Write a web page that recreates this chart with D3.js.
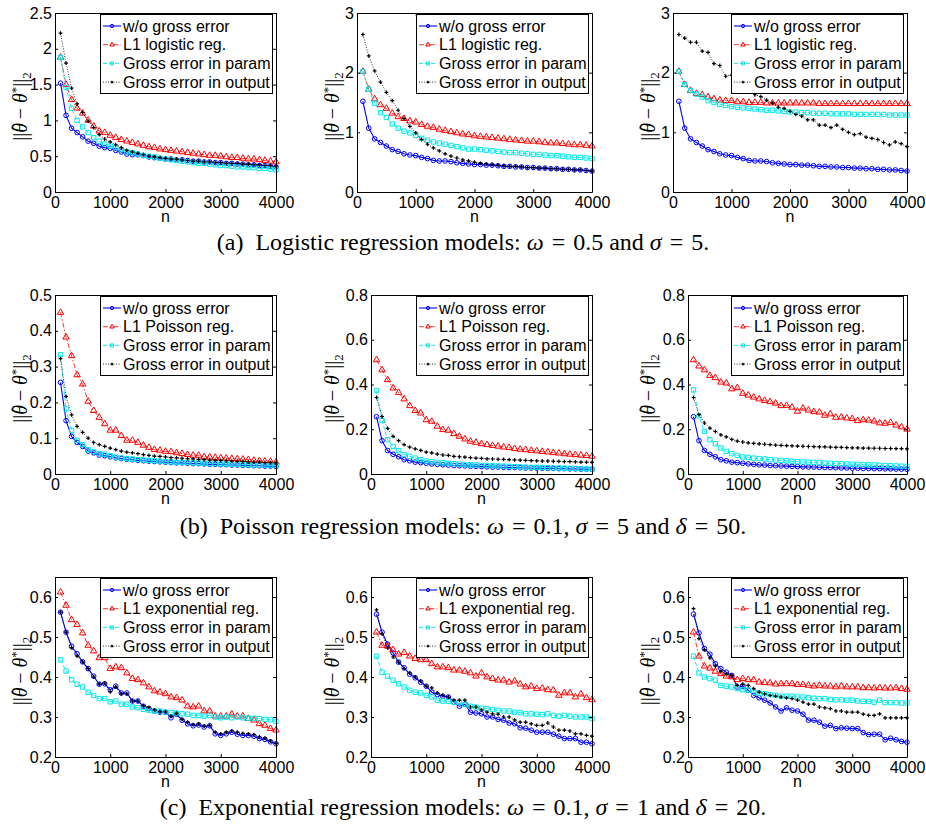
<!DOCTYPE html>
<html>
<head>
<meta charset="utf-8">
<script src="https://cdn.jsdelivr.net/npm/d3@7"></script>
<style>
  body { margin: 0; background: #fff; }
</style>
</head>
<body>
<script>
// sample sizes (x values shared by every curve)
var nValues = [100,200,300,400,500,600,700,800,900,1000,
  1100,1200,1300,1400,1500,1600,1700,1800,1900,2000,
  2100,2200,2300,2400,2500,2600,2700,2800,2900,3000,
  3100,3200,3300,3400,3500,3600,3700,3800,3900,4000];
var xTicks = [0, 1000, 2000, 3000, 4000];

// (a) logistic regression
var logBlue = [1.52,1.07,0.89,0.83,0.77,0.71,0.68,0.64,0.62,0.61,
  0.58,0.56,0.53,0.52,0.52,0.51,0.49,0.48,0.47,0.46,
  0.46,0.45,0.45,0.44,0.43,0.43,0.42,0.42,0.41,0.41,
  0.40,0.40,0.39,0.39,0.38,0.38,0.37,0.37,0.36,0.35];
var a1Red = [1.88,1.50,1.29,1.17,1.10,1.00,0.92,0.85,0.83,0.79,
  0.76,0.73,0.71,0.69,0.67,0.65,0.63,0.62,0.60,0.59,
  0.58,0.57,0.56,0.55,0.54,0.53,0.52,0.51,0.51,0.50,
  0.49,0.48,0.48,0.47,0.46,0.46,0.45,0.44,0.43,0.42];
var a1Cyan = [1.88,1.46,1.17,1.00,0.91,0.83,0.76,0.71,0.67,0.64,
  0.62,0.59,0.56,0.55,0.53,0.51,0.50,0.49,0.47,0.46,
  0.45,0.44,0.43,0.42,0.41,0.40,0.40,0.39,0.38,0.37,
  0.37,0.36,0.35,0.35,0.34,0.34,0.33,0.33,0.32,0.31];
var a1Black = [2.22,1.80,1.45,1.23,1.11,0.99,0.90,0.80,0.74,0.70,
  0.66,0.62,0.58,0.56,0.54,0.52,0.50,0.49,0.48,0.47,
  0.46,0.46,0.45,0.44,0.43,0.43,0.42,0.42,0.41,0.41,
  0.40,0.40,0.40,0.39,0.39,0.38,0.38,0.37,0.37,0.36];
var a2Red = [2.02,1.72,1.56,1.46,1.40,1.32,1.26,1.23,1.19,1.17,
  1.13,1.10,1.08,1.05,1.03,1.01,0.99,0.97,0.96,0.94,
  0.93,0.92,0.91,0.90,0.89,0.88,0.87,0.86,0.85,0.85,
  0.84,0.83,0.82,0.82,0.81,0.80,0.79,0.79,0.78,0.77];
var a2Cyan = [2.02,1.72,1.49,1.33,1.25,1.14,1.07,1.02,0.99,0.95,
  0.90,0.87,0.84,0.82,0.80,0.78,0.76,0.74,0.72,0.72,
  0.71,0.70,0.69,0.68,0.67,0.66,0.66,0.65,0.64,0.63,
  0.63,0.62,0.61,0.61,0.60,0.59,0.58,0.58,0.57,0.56];
var a2Black = [2.64,2.28,2.03,1.84,1.67,1.53,1.37,1.23,1.10,0.99,
  0.88,0.80,0.74,0.69,0.64,0.60,0.57,0.54,0.52,0.50,
  0.48,0.47,0.46,0.45,0.44,0.43,0.43,0.42,0.41,0.41,
  0.40,0.40,0.39,0.39,0.38,0.38,0.37,0.37,0.36,0.35];
var a3Red = [2.02,1.80,1.70,1.65,1.63,1.59,1.56,1.54,1.53,1.53,
  1.51,1.51,1.50,1.50,1.50,1.49,1.49,1.49,1.49,1.49,
  1.49,1.49,1.49,1.49,1.48,1.48,1.48,1.48,1.48,1.48,
  1.48,1.48,1.48,1.48,1.48,1.48,1.48,1.48,1.48,1.48];
var a3Cyan = [2.02,1.80,1.70,1.64,1.59,1.53,1.50,1.47,1.45,1.43,
  1.42,1.41,1.40,1.39,1.38,1.37,1.37,1.36,1.35,1.34,
  1.34,1.33,1.33,1.32,1.32,1.32,1.31,1.31,1.31,1.31,
  1.30,1.30,1.30,1.30,1.30,1.30,1.29,1.29,1.29,1.29];
var a3Black = [2.64,2.58,2.51,2.51,2.36,2.34,2.15,2.12,1.94,1.96,
  1.86,1.80,1.72,1.63,1.60,1.54,1.49,1.42,1.40,1.35,
  1.30,1.27,1.21,1.21,1.12,1.12,1.08,1.12,1.05,1.00,
  0.96,0.98,0.92,0.90,0.88,0.83,0.79,0.84,0.81,0.76];

// (b) poisson regression
var poisBlue = [0.256,0.149,0.105,0.088,0.077,0.064,0.059,0.053,0.051,0.048,
  0.045,0.043,0.041,0.040,0.038,0.037,0.036,0.035,0.034,0.033,
  0.032,0.031,0.031,0.030,0.029,0.029,0.028,0.027,0.027,0.026,
  0.026,0.025,0.025,0.024,0.024,0.023,0.023,0.022,0.022,0.021];
var b1Red = [0.451,0.382,0.330,0.277,0.251,0.203,0.177,0.158,0.140,0.122,
  0.122,0.107,0.094,0.094,0.088,0.080,0.074,0.068,0.066,0.063,
  0.062,0.059,0.057,0.054,0.052,0.052,0.048,0.047,0.046,0.045,
  0.044,0.043,0.042,0.041,0.040,0.038,0.037,0.036,0.035,0.033];
var b1Cyan = [0.333,0.182,0.122,0.094,0.082,0.068,0.063,0.057,0.055,0.051,
  0.047,0.045,0.043,0.042,0.040,0.039,0.038,0.037,0.036,0.035,
  0.034,0.033,0.033,0.032,0.031,0.031,0.030,0.029,0.029,0.028,
  0.028,0.027,0.027,0.026,0.026,0.025,0.025,0.025,0.024,0.024];
var b1Black = [0.322,0.217,0.165,0.133,0.116,0.100,0.088,0.082,0.077,0.072,
  0.068,0.064,0.061,0.059,0.057,0.054,0.052,0.050,0.049,0.048,
  0.046,0.045,0.044,0.043,0.042,0.041,0.040,0.039,0.038,0.038,
  0.037,0.036,0.035,0.035,0.034,0.033,0.033,0.032,0.032,0.031];
var b2Red = [0.510,0.465,0.421,0.384,0.364,0.335,0.305,0.283,0.272,0.242,
  0.235,0.213,0.198,0.195,0.180,0.168,0.156,0.146,0.141,0.135,
  0.131,0.127,0.124,0.120,0.118,0.113,0.110,0.108,0.105,0.103,
  0.100,0.098,0.095,0.093,0.090,0.088,0.086,0.084,0.082,0.079];
var b2Cyan = [0.373,0.239,0.153,0.123,0.104,0.087,0.079,0.071,0.064,0.058,
  0.055,0.052,0.050,0.048,0.046,0.044,0.042,0.041,0.040,0.039,
  0.038,0.037,0.036,0.035,0.034,0.033,0.032,0.031,0.030,0.030,
  0.029,0.028,0.027,0.027,0.026,0.025,0.025,0.024,0.023,0.022];
var b2Black = [0.342,0.257,0.204,0.168,0.149,0.131,0.120,0.112,0.106,0.098,
  0.094,0.089,0.085,0.083,0.079,0.077,0.075,0.073,0.071,0.070,
  0.068,0.067,0.066,0.065,0.064,0.063,0.062,0.061,0.060,0.059,
  0.058,0.058,0.057,0.056,0.055,0.055,0.054,0.053,0.053,0.052];
var b3Red = [0.510,0.482,0.465,0.440,0.430,0.410,0.406,0.380,0.385,0.360,
  0.352,0.343,0.335,0.328,0.323,0.316,0.305,0.306,0.298,0.280,
  0.294,0.285,0.278,0.276,0.262,0.268,0.253,0.254,0.250,0.247,
  0.238,0.242,0.240,0.236,0.228,0.226,0.230,0.218,0.210,0.200];
var b3Cyan = [0.376,0.260,0.190,0.153,0.135,0.116,0.101,0.091,0.083,0.076,
  0.074,0.071,0.069,0.067,0.064,0.062,0.061,0.059,0.057,0.055,
  0.054,0.053,0.052,0.050,0.049,0.048,0.047,0.046,0.045,0.044,
  0.043,0.042,0.041,0.040,0.039,0.038,0.037,0.036,0.035,0.034];
var b3Black = [0.342,0.265,0.228,0.205,0.190,0.175,0.166,0.155,0.147,0.143,
  0.139,0.137,0.135,0.133,0.131,0.129,0.128,0.127,0.126,0.125,
  0.124,0.123,0.122,0.121,0.121,0.120,0.119,0.119,0.118,0.117,
  0.117,0.116,0.116,0.115,0.115,0.114,0.114,0.113,0.113,0.112];

// (c) exponential regression
var c1Blue = [0.562,0.512,0.477,0.458,0.438,0.421,0.402,0.382,0.383,0.368,
  0.377,0.360,0.360,0.340,0.340,0.327,0.321,0.315,0.312,0.312,
  0.298,0.307,0.292,0.283,0.278,0.280,0.275,0.278,0.258,0.254,
  0.258,0.262,0.257,0.254,0.254,0.252,0.246,0.244,0.238,0.233];
var c1Red = [0.612,0.579,0.543,0.531,0.510,0.479,0.465,0.448,0.448,0.421,
  0.425,0.423,0.410,0.396,0.393,0.385,0.375,0.365,0.362,0.358,
  0.350,0.348,0.342,0.327,0.325,0.327,0.315,0.315,0.302,0.302,
  0.302,0.307,0.302,0.302,0.296,0.292,0.283,0.279,0.271,0.267];
var c1Cyan = [0.443,0.415,0.393,0.382,0.375,0.362,0.354,0.346,0.346,0.338,
  0.340,0.332,0.332,0.325,0.323,0.319,0.317,0.315,0.315,0.312,
  0.311,0.310,0.308,0.307,0.304,0.304,0.302,0.304,0.300,0.298,
  0.300,0.298,0.300,0.298,0.297,0.297,0.296,0.294,0.293,0.289];
var c1Black = [0.562,0.512,0.473,0.452,0.438,0.421,0.400,0.382,0.385,0.363,
  0.375,0.358,0.358,0.340,0.340,0.328,0.324,0.318,0.313,0.313,
  0.302,0.309,0.294,0.287,0.281,0.283,0.277,0.279,0.262,0.258,
  0.262,0.265,0.262,0.259,0.258,0.256,0.250,0.247,0.240,0.234];
var c2Blue = [0.557,0.512,0.482,0.460,0.437,0.423,0.407,0.398,0.387,0.377,
  0.362,0.356,0.352,0.350,0.337,0.327,0.332,0.312,0.310,0.308,
  0.300,0.300,0.294,0.292,0.285,0.283,0.273,0.272,0.267,0.262,
  0.262,0.262,0.257,0.252,0.246,0.246,0.246,0.237,0.237,0.233];
var c2Red = [0.512,0.479,0.477,0.468,0.457,0.461,0.452,0.446,0.443,0.443,
  0.433,0.425,0.425,0.423,0.417,0.417,0.414,0.410,0.402,0.410,
  0.400,0.396,0.392,0.392,0.387,0.390,0.382,0.375,0.377,0.371,
  0.372,0.368,0.367,0.354,0.360,0.360,0.350,0.357,0.348,0.343];
var c2Cyan = [0.452,0.412,0.402,0.392,0.383,0.375,0.367,0.362,0.360,0.354,
  0.350,0.342,0.340,0.339,0.337,0.336,0.331,0.327,0.325,0.322,
  0.321,0.319,0.317,0.315,0.315,0.312,0.311,0.308,0.308,0.307,
  0.306,0.308,0.304,0.302,0.304,0.302,0.300,0.300,0.300,0.296];
var c2Black = [0.568,0.508,0.473,0.450,0.437,0.421,0.410,0.400,0.390,0.377,
  0.373,0.360,0.354,0.350,0.342,0.342,0.342,0.325,0.325,0.318,
  0.312,0.308,0.307,0.300,0.300,0.293,0.287,0.287,0.283,0.279,
  0.279,0.285,0.275,0.267,0.267,0.265,0.258,0.258,0.254,0.252];
var c3Blue = [0.557,0.510,0.471,0.457,0.433,0.421,0.412,0.404,0.375,0.377,
  0.367,0.354,0.348,0.342,0.335,0.325,0.315,0.323,0.317,0.315,
  0.307,0.292,0.292,0.287,0.277,0.279,0.271,0.273,0.272,0.271,
  0.271,0.261,0.256,0.257,0.257,0.243,0.247,0.243,0.239,0.237];
var c3Red = [0.512,0.452,0.427,0.422,0.414,0.408,0.402,0.400,0.393,0.396,
  0.393,0.393,0.387,0.386,0.385,0.382,0.383,0.383,0.383,0.381,
  0.381,0.379,0.377,0.379,0.377,0.377,0.375,0.377,0.375,0.375,
  0.375,0.373,0.373,0.372,0.373,0.372,0.372,0.373,0.371,0.369];
var c3Cyan = [0.452,0.410,0.400,0.396,0.392,0.379,0.377,0.375,0.371,0.368,
  0.367,0.362,0.360,0.358,0.356,0.354,0.352,0.352,0.352,0.350,
  0.350,0.348,0.347,0.346,0.346,0.344,0.343,0.343,0.342,0.342,
  0.340,0.339,0.339,0.337,0.342,0.336,0.336,0.336,0.335,0.335];
var c3Black = [0.571,0.496,0.468,0.448,0.427,0.414,0.408,0.404,0.379,0.382,
  0.379,0.371,0.362,0.358,0.354,0.352,0.350,0.348,0.346,0.342,
  0.337,0.332,0.332,0.325,0.323,0.321,0.315,0.315,0.312,0.312,
  0.312,0.307,0.304,0.304,0.308,0.298,0.298,0.298,0.298,0.298];

// y tick labels
var ticksA1 = [0, 0.5, 1, 1.5, 2, 2.5];
var ticksA = [0, 1, 2, 3];
var ticksB1 = [0, 0.1, 0.2, 0.3, 0.4, 0.5];
var ticksB = [0, 0.2, 0.4, 0.6, 0.8];
var ticksC = [0.2, 0.3, 0.4, 0.5, 0.6];

var legendNames = ["w/o gross error", null, "Gross error in param", "Gross error in output"];
var regNames = ["L1 logistic reg.", "L1 Poisson reg.", "L1 exponential reg."];

var svg = d3.select("body").append("svg")
  .attr("width", 926)
  .attr("height", 829);

var sansFont = "'Liberation Sans', Arial, Helvetica, sans-serif";
var serifFont = "'Liberation Serif', 'Times New Roman', serif";

// series look (matlab style)
var styles = [
  {color: "#0000ff", width: 1.1, dash: null, shape: "circle"},
  {color: "#ff0000", width: 0.8, dash: "5,2,1.5,2", shape: "triangle"},
  {color: "#00e8e8", width: 0.9, dash: "4,2", shape: "square"},
  {color: "#000000", width: 0.8, dash: "1,1.6", shape: "plus"}
];

// layout of the nine axes
var rowTops = [13, 295, 577];
var rowBottoms = [192, 474, 757];
var panels = [
  {row: 0, left: 55, right: 276, labelX: 20, dom: [0, 2.5], ticks: ticksA1, data: [logBlue, a1Red, a1Cyan, a1Black]},
  {row: 0, left: 357, right: 592, labelX: 332, dom: [0, 3], ticks: ticksA, data: [logBlue, a2Red, a2Cyan, a2Black]},
  {row: 0, left: 673, right: 907, labelX: 648, dom: [0, 3], ticks: ticksA, data: [logBlue, a3Red, a3Cyan, a3Black]},
  {row: 1, left: 55, right: 276, labelX: 20, dom: [0, 0.5], ticks: ticksB1, data: [poisBlue, b1Red, b1Cyan, b1Black]},
  {row: 1, left: 371, right: 592, labelX: 332, dom: [0, 0.8], ticks: ticksB, data: [poisBlue, b2Red, b2Cyan, b2Black]},
  {row: 1, left: 688, right: 907, labelX: 648, dom: [0, 0.8], ticks: ticksB, data: [poisBlue, b3Red, b3Cyan, b3Black]},
  {row: 2, left: 55, right: 276, labelX: 20, dom: [0.2, 0.65], ticks: ticksC, data: [c1Blue, c1Red, c1Cyan, c1Black]},
  {row: 2, left: 371, right: 592, labelX: 332, dom: [0.2, 0.65], ticks: ticksC, data: [c2Blue, c2Red, c2Cyan, c2Black]},
  {row: 2, left: 688, right: 907, labelX: 648, dom: [0.2, 0.65], ticks: ticksC, data: [c3Blue, c3Red, c3Cyan, c3Black]}
];

function drawMarker(g, st, cx, cy, scale) {
  if (st.shape === "plus") {
    var a = 1.9 * scale;
    g.append("path")
      .attr("d", "M" + (cx - a) + "," + cy + "H" + (cx + a) + "M" + cx + "," + (cy - a) + "V" + (cy + a))
      .attr("stroke", st.color)
      .attr("stroke-width", 1.2);
    return;
  }
  var type = st.shape === "circle" ? d3.symbolCircle : st.shape === "triangle" ? d3.symbolTriangle : d3.symbolSquare;
  var size = st.shape === "circle" ? 17 : st.shape === "triangle" ? 18 : 19;
  g.append("path")
    .attr("transform", "translate(" + cx + "," + cy + ")")
    .attr("d", d3.symbol().type(type).size(size * scale * scale)())
    .attr("fill", "none")
    .attr("stroke", st.color)
    .attr("stroke-width", 1);
}

panels.forEach(function(p) {
  var top = rowTops[p.row], bottom = rowBottoms[p.row];
  var x = d3.scaleLinear().domain([0, 4000]).range([p.left, p.right]);
  var y = d3.scaleLinear().domain(p.dom).range([bottom, top]);
  var g = svg.append("g");

  var line = d3.line()
    .x(function(d) { return x(d[0]); })
    .y(function(d) { return y(d[1]); });

  styles.forEach(function(st, k) {
    var pts = nValues.map(function(n, i) { return [n, p.data[k][i]]; });
    g.append("path")
      .datum(pts)
      .attr("d", line)
      .attr("fill", "none")
      .attr("stroke", st.color)
      .attr("stroke-width", st.width)
      .attr("stroke-dasharray", st.dash);
    pts.forEach(function(d) {
      drawMarker(g, st, x(d[0]), y(d[1]), 1);
    });
  });

  // box with inward ticks on every side
  var fmt = d3.format("~g");
  g.append("g")
    .attr("transform", "translate(0," + bottom + ")")
    .call(d3.axisBottom(x).tickValues(xTicks).tickSizeInner(-3).tickSizeOuter(0).tickPadding(4.5).tickFormat(fmt))
    .attr("font-size", 16).attr("font-family", sansFont);
  g.append("g")
    .attr("transform", "translate(0," + top + ")")
    .call(d3.axisTop(x).tickValues(xTicks).tickSizeInner(-3).tickSizeOuter(0).tickFormat(""));
  g.append("g")
    .attr("transform", "translate(" + p.left + ",0)")
    .call(d3.axisLeft(y).tickValues(p.ticks).tickSizeInner(-3).tickSizeOuter(0).tickPadding(3).tickFormat(fmt))
    .attr("font-size", 16).attr("font-family", sansFont);
  g.append("g")
    .attr("transform", "translate(" + p.right + ",0)")
    .call(d3.axisRight(y).tickValues(p.ticks).tickSizeInner(-3).tickSizeOuter(0).tickFormat(""));

  // axis titles
  g.append("text")
    .attr("x", (p.left + p.right) / 2)
    .attr("y", bottom + 29.5)
    .attr("text-anchor", "middle")
    .style("font-family", sansFont)
    .style("font-size", "16px")
    .text("n");

  var yl = g.append("text")
    .attr("transform", "translate(" + p.labelX + "," + ((top + bottom) / 2 + 4) + ") rotate(-90)")
    .attr("text-anchor", "middle")
    .attr("dy", "0.35em")
    .style("font-family", serifFont)
    .style("font-size", "20px");
  yl.append("tspan").text("||");
  yl.append("tspan").style("font-style", "italic").text("\u03B8");
  yl.append("tspan").attr("dx", -7.5).attr("dy", -4).style("font-size", "17px").text("\u02C6");
  yl.append("tspan").attr("dx", 0.5).attr("dy", 4).text(" \u2212 ");
  yl.append("tspan").style("font-style", "italic").text("\u03B8");
  yl.append("tspan").attr("dy", -7).style("font-size", "13px").text("*");
  yl.append("tspan").attr("dy", 7).text("||");
  yl.append("tspan").attr("dy", 4).style("font-size", "13px").text("2");

  // legend
  var lw = 172, lh = 79;
  var lg = g.append("g")
    .attr("transform", "translate(" + (p.right - 4 - lw) + "," + (top + 1) + ")");
  lg.append("rect")
    .attr("x", 0.5).attr("y", 0.5)
    .attr("width", lw).attr("height", lh)
    .attr("fill", "#fff")
    .attr("stroke", "#000")
    .attr("stroke-width", 1);
  styles.forEach(function(st, k) {
    var ly = 12 + k * 18.7;
    lg.append("line")
      .attr("x1", 3).attr("x2", 21)
      .attr("y1", ly).attr("y2", ly)
      .attr("stroke", st.color)
      .attr("stroke-width", st.width)
      .attr("stroke-dasharray", st.dash);
    drawMarker(lg, st, 12, ly, 0.7);
    lg.append("text")
      .attr("x", 23).attr("y", ly)
      .attr("dy", "0.35em")
      .style("font-family", sansFont)
      .style("font-size", "16px")
      .text(k === 1 ? regNames[p.row] : legendNames[k]);
  });
});

// sub-figure captions
var eq = "\u2004=\u2004";
var captions = [
  {y: 250, parts: [["(a)\u00A0\u00A0Logistic regression models: ", 0], ["\u03C9", 1], [eq + "0.5 and ", 0], ["\u03C3", 1], [eq + "5.", 0]]},
  {y: 534, parts: [["(b)\u00A0\u00A0Poisson regression models: ", 0], ["\u03C9", 1], [eq + "0.1, ", 0], ["\u03C3", 1], [eq + "5 and ", 0], ["\u03B4", 1], [eq + "50.", 0]]},
  {y: 815, parts: [["(c)\u00A0\u00A0Exponential regression models: ", 0], ["\u03C9", 1], [eq + "0.1, ", 0], ["\u03C3", 1], [eq + "1 and ", 0], ["\u03B4", 1], [eq + "20.", 0]]}
];
captions.forEach(function(c) {
  var t = svg.append("text")
    .attr("x", 463).attr("y", c.y)
    .attr("text-anchor", "middle")
    .style("font-family", serifFont)
    .style("font-size", "24px");
  c.parts.forEach(function(pt) {
    t.append("tspan")
      .style("font-style", pt[1] ? "italic" : "normal")
      .text(pt[0]);
  });
});
</script>
</body>
</html>
